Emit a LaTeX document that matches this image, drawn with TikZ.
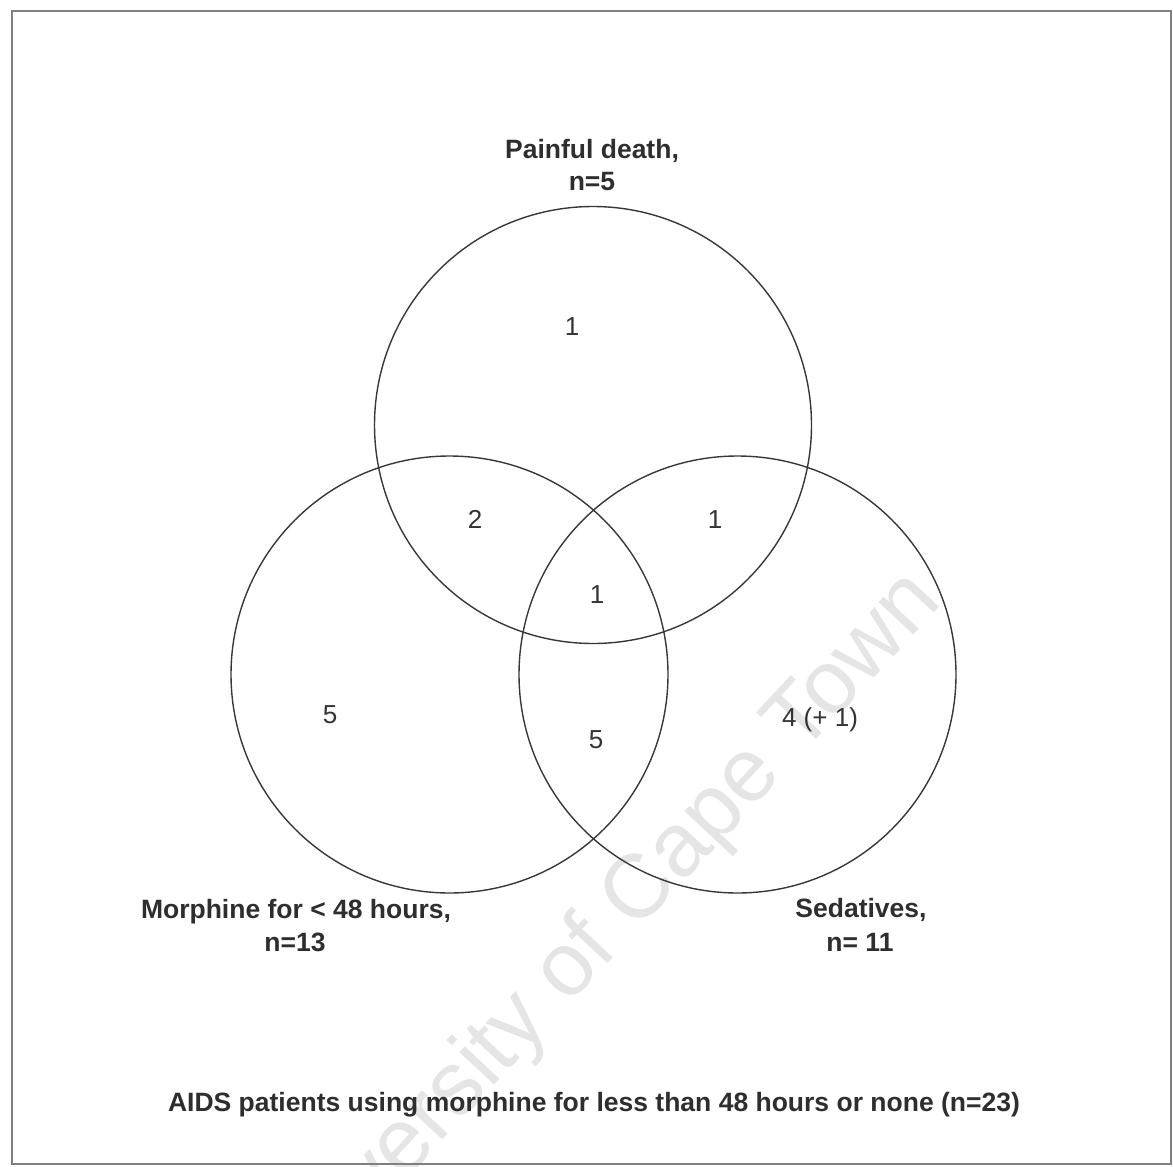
\documentclass[tikz,border=0pt]{standalone}
\usepackage{fontspec}
\setmainfont{Liberation Sans}
\begin{document}
\begin{tikzpicture}[x=1pt,y=-1pt,
  setring/.style={circle, draw=black!78, line width=1.4pt, minimum size=437pt, inner sep=0pt},
  lbl/.style={anchor=base, inner sep=0pt, text=black!82, font=\fontsize{26.5}{32}\selectfont\bfseries},
  num/.style={anchor=base, inner sep=0pt, text=black!80, font=\fontsize{26}{30}\selectfont},
  wmark/.style={rotate=47, inner sep=0pt, text=black!10, font=\fontsize{90}{100}\selectfont}]
\useasboundingbox (0,0) rectangle (1173,1167);
\fill[white] (0,0) rectangle (1173,1167);
% watermark
\node[wmark] (wm) at (596,942) {University of Cape Town};
% frame
\draw[black!50, line width=2.4pt] (12,11) rectangle (1171,1164);
% sets
\node[setring] (pain) at (593,425) {};
\node[setring, minimum size=437pt] (morph) at (449.5,674.5) {};
\node[setring, minimum size=437pt] (sed) at (737.5,674.5) {};
% region counts
\node[num] (nP) at (572,335) {1};
\node[num] (nPM) at (475,528) {2};
\node[num] (nPS) at (715,528) {1};
\node[num] (nPMS) at (597,603) {1};
\node[num] (nM) at (330,723) {5};
\node[num] (nMS) at (596,748) {5};
\node[num] (nS) at (820,726) {4 (+ 1)};
% set labels
\node[lbl] (lP1) at (592,158) {Painful death,};
\node[lbl] (lP2) at (592,190) {n=5};
\node[lbl] (lM1) at (296,918) {Morphine for < 48 hours,};
\node[lbl] (lM2) at (295,951) {n=13};
\node[lbl] (lS1) at (861,917) {Sedatives,};
\node[lbl] (lS2) at (860,951) {n= 11};
% caption
\node[lbl] (cap) at (594,1111) {AIDS patients using morphine for less than 48 hours or none (n=23)};
\end{tikzpicture}
\end{document}
